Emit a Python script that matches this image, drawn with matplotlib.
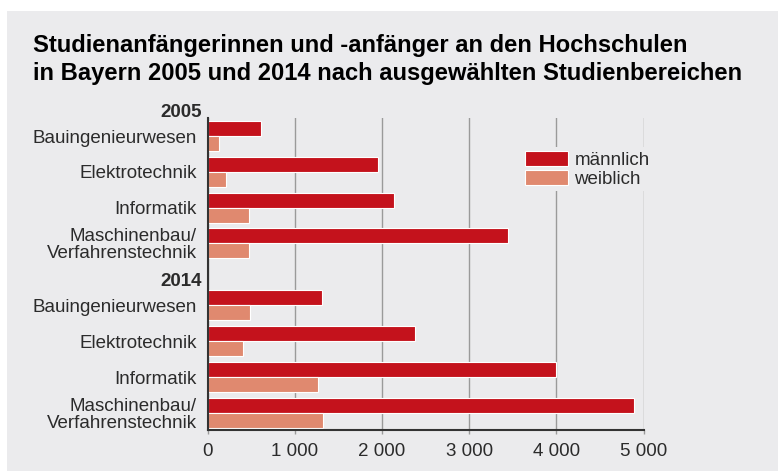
import matplotlib
matplotlib.use("Agg")
import matplotlib.pyplot as plt
import matplotlib.patches as mpatches
import numpy as np

plt.rcParams['font.family'] = ['Liberation Sans', 'DejaVu Sans']

# ---- data ----
categories = ["Bauingenieurwesen", "Elektrotechnik", "Informatik",
              "Maschinenbau/\nVerfahrenstechnik"]
years = ["2005", "2014"]
male_2005 = [610, 1955, 2140, 3450]
female_2005 = [130, 210, 475, 475]
male_2014 = [1315, 2380, 4000, 4890]
female_2014 = [485, 405, 1265, 1325]
xticks = [0, 1000, 2000, 3000, 4000, 5000]
xticklabels = ["0", "1 000", "2 000", "3 000", "4 000", "5 000"]
series_labels = ["männlich", "weiblich"]

C_MALE = "#c4121c"
C_FEMALE = "#e0896f"
BG = "#ebebed"
TXT = "#2b2b2b"

W, H = 778, 471
fig = plt.figure(figsize=(W / 100, H / 100), dpi=100)
fig.patch.set_facecolor("white")
# gray panel
fig.patches.append(mpatches.Rectangle((7 / W, 0), 1, 1 - 11 / H,
                                      transform=fig.transFigure,
                                      facecolor=BG, edgecolor="none", zorder=-10))

ax_left, ax_right = 207.5, 643.5
ax_top, ax_bot = 118, 430
ax = fig.add_axes([ax_left / W, 1 - ax_bot / H, (ax_right - ax_left) / W,
                   (ax_bot - ax_top) / H])
ax.set_facecolor(BG)

n = len(categories)
gap_offset = 4.73
pos05 = np.arange(n, dtype=float)
pos14 = np.arange(n, dtype=float) + gap_offset
bh = 0.42
off = 0.21

for pos, m, f in [(pos05, male_2005, female_2005), (pos14, male_2014, female_2014)]:
    ax.barh(pos - off, m, height=bh, color=C_MALE, edgecolor="white", linewidth=0.8, zorder=3)
    ax.barh(pos + off, f, height=bh, color=C_FEMALE, edgecolor="white", linewidth=0.8, zorder=3)

ax.set_xlim(0, 5000)
ax.set_ylim(8.21, -0.503)

ax.set_xticks(xticks)
ax.set_xticklabels(xticklabels, fontsize=13.5, color=TXT)
ax.tick_params(axis="x", length=3, width=1, color="#9a9a9a", pad=6)
ax.set_yticks(np.concatenate([pos05, pos14]))
ax.set_yticklabels(categories * 2, fontsize=13.5, color=TXT, linespacing=1.0)
ax.tick_params(axis="y", length=0, pad=7.5)

ax.grid(axis="x", color="#9a9a9a", linewidth=1, zorder=0)
ax.set_axisbelow(True)
for s in ["top", "right"]:
    ax.spines[s].set_visible(False)
for s in ["left", "bottom"]:
    ax.spines[s].set_color("#333333")
    ax.spines[s].set_linewidth(1.5)
    ax.spines[s].set_zorder(4)

# year headers
ax.text(-0.012, -0.67, years[0], transform=ax.get_yaxis_transform(), ha="right",
        va="center", fontsize=13.5, fontweight="bold", color=TXT, clip_on=False)
ax.text(-0.012, 4.05, years[1], transform=ax.get_yaxis_transform(), ha="right",
        va="center", fontsize=13.5, fontweight="bold", color=TXT, clip_on=False)

# legend
handles = [mpatches.Patch(facecolor=C_MALE, edgecolor="white", linewidth=0.8),
           mpatches.Patch(facecolor=C_FEMALE, edgecolor="white", linewidth=0.8)]
leg = ax.legend(handles, series_labels, loc="upper left",
                bbox_to_anchor=(521 / W, 1 - 147 / H), bbox_transform=fig.transFigure,
                fontsize=13.5, handlelength=2.3, handleheight=0.85, labelspacing=0.05,
                handletextpad=0.35, borderpad=0.2, borderaxespad=0, frameon=True,
                fancybox=False)
leg.get_frame().set_facecolor(BG)
leg.get_frame().set_edgecolor("none")
leg.get_frame().set_alpha(1)
for t in leg.get_texts():
    t.set_color(TXT)

# title
fig.text(33 / W, 1 - 52 / H, "Studienanfängerinnen und -anfänger an den Hochschulen",
         fontsize=17.1, fontweight="bold", color="black", ha="left", va="baseline")
fig.text(33 / W, 1 - 80 / H, "in Bayern 2005 und 2014 nach ausgewählten Studienbereichen",
         fontsize=17.1, fontweight="bold", color="black", ha="left", va="baseline")

fig.savefig("out.png", dpi=100, facecolor=fig.get_facecolor())
